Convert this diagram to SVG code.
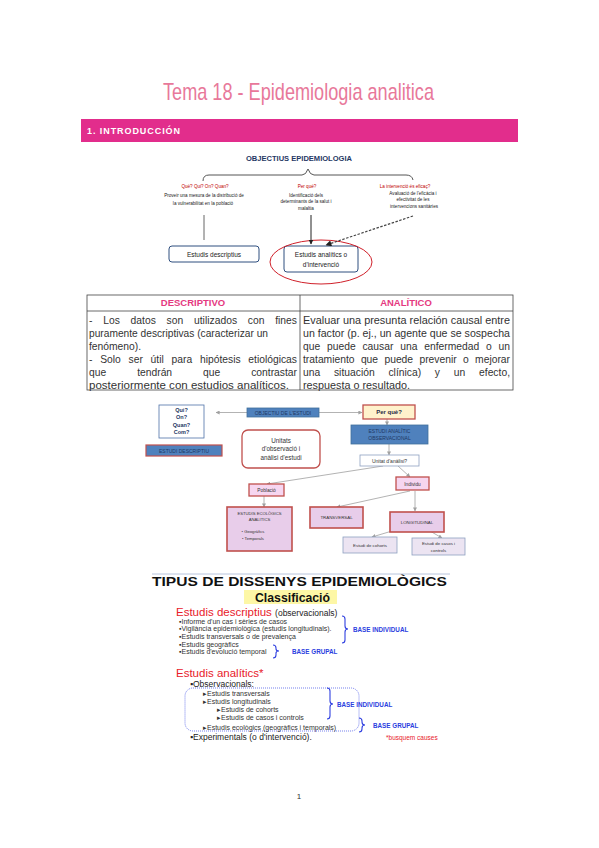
<svg xmlns="http://www.w3.org/2000/svg" width="599" height="848" viewBox="0 0 599 848">
<defs>
<style>
text{font-family:"Liberation Sans",Arial,sans-serif}
.sm{font-size:4.6px;fill:#222}
.red{font-size:4.6px;fill:#c00000}
.tb{font-size:10.3px;fill:#333}
.hd{font-size:9.5px;font-weight:bold;fill:#e5397f}
.bx{font-size:5px;fill:#1f3864}
.blue{fill:#4f81bd;stroke:#41719c;stroke-width:0.8}
.pink{fill:#e8cdea;stroke:#c0504d;stroke-width:1.6}
.lt{fill:#ece4f2;stroke:#8ea0c0;stroke-width:0.8}
.ln{stroke:#a0a0a0;stroke-width:0.8;fill:none}
.bul{font-size:7px;fill:#333}
.br{fill:none;stroke:#3040e0;stroke-width:1.1}
.base{font-size:6.3px;font-weight:bold;fill:#2b3ee0}
</style>
<marker id="ah" viewBox="0 0 10 10" refX="9" refY="5" markerWidth="5" markerHeight="5" orient="auto"><path d="M0,0 L10,5 L0,10 z" fill="#a0a0a0"/></marker>
<marker id="ahk" viewBox="0 0 10 10" refX="9" refY="5" markerWidth="5" markerHeight="5" orient="auto"><path d="M0,0 L10,5 L0,10 z" fill="#222"/></marker>
</defs>
<rect width="599" height="848" fill="#fff"/>

<g id="title">
<text x="163" y="100" font-family="'Lato Light','DejaVu Sans ExtraLight',Lato,'Liberation Sans',sans-serif" font-weight="300" font-size="24" fill="#e8789a" textLength="271" lengthAdjust="spacingAndGlyphs">Tema 18 - Epidemiologia analitica</text>
</g>
<g id="header">
<rect x="81" y="119" width="437" height="23" fill="#e22d8c"/>
<text x="87" y="134" font-size="9" font-weight="bold" fill="#fff" textLength="93" lengthAdjust="spacing">1. INTRODUCCIÓN</text>
</g>

<!-- Objectius epidemiologia -->
<g id="objectius">
<text x="246" y="161" font-size="7.5" font-weight="bold" fill="#1f3864" textLength="106" lengthAdjust="spacingAndGlyphs">OBJECTIUS EPIDEMIOLOGIA</text>
<path d="M203,181 Q203,175 209,175 L302,175 Q306,175 308,169 Q310,175 314,175 L406,175 Q412,175 413,180" fill="none" stroke="#555" stroke-width="1"/>
</g>
<g id="obj-left">
<text class="red" x="205" y="188" text-anchor="middle">Què? Qui? On? Quan?</text>
<text class="sm" x="204" y="197" text-anchor="middle">Proveir una mesura de la distribució de</text>
<text class="sm" x="203" y="205" text-anchor="middle">la vulnerabilitat en la població</text>
</g>
<g id="obj-mid">
<text class="red" x="307" y="188" text-anchor="middle">Per què?</text>
<text class="sm" x="306" y="196.5" text-anchor="middle">Identificació dels</text>
<text class="sm" x="306" y="203" text-anchor="middle">determinants de la salut i</text>
<text class="sm" x="306" y="209.5" text-anchor="middle">malaltia</text>
</g>
<g id="obj-right">
<text class="red" x="405" y="188" text-anchor="middle">La intervenció és eficaç?</text>
<text class="sm" x="413" y="195" text-anchor="middle">Avaluació de l'eficàcia i</text>
<text class="sm" x="413" y="201" text-anchor="middle">efectivitat de les</text>
<text class="sm" x="414" y="207.5" text-anchor="middle">intervencions sanitàries</text>
</g>
<g id="obj-descriptius">
<rect x="169" y="246" width="90" height="16" rx="3" fill="#fff" stroke="#2f4f7f" stroke-width="1"/>
<text x="214" y="256.5" font-size="6.5" fill="#222" text-anchor="middle">Estudis descriptius</text>
</g>
<g id="obj-analitics">
<rect x="284" y="246" width="74" height="26" rx="3" fill="#fff" stroke="#2f4f7f" stroke-width="1"/>
<text x="321" y="257" font-size="6.5" fill="#222" text-anchor="middle">Estudis analítics o</text>
<text x="321" y="267" font-size="6.5" fill="#222" text-anchor="middle">d'intervenció</text>
<ellipse cx="321" cy="262" rx="51" ry="22" fill="none" stroke="#d0202a" stroke-width="1"/>
</g>
<g id="obj-connectors">
<line x1="204" y1="215" x2="204" y2="240" stroke="#666" stroke-width="1"/>
<line x1="311" y1="215" x2="311" y2="244" stroke="#222" stroke-width="1" marker-end="url(#ahk)"/>
<line x1="413" y1="216" x2="326" y2="245" stroke="#444" stroke-width="1.2" stroke-dasharray="2.5,1.5" marker-end="url(#ahk)"/>
</g>

<!-- Table -->
<g id="table">
<rect x="87" y="295" width="426" height="95" fill="none" stroke="#444" stroke-width="0.8"/>
<line x1="87" y1="311" x2="513" y2="311" stroke="#444" stroke-width="0.8"/>
<line x1="300" y1="295" x2="300" y2="390" stroke="#444" stroke-width="0.8"/>
<text class="hd" x="193" y="306" text-anchor="middle">DESCRIPTIVO</text>
<text class="hd" x="406" y="306" text-anchor="middle">ANALÍTICO</text>
<text class="tb" x="89" y="323.5" word-spacing="7.9" textLength="208" lengthAdjust="spacing">- Los datos son utilizados con fines</text>
<text class="tb" x="89" y="336.5" textLength="179" lengthAdjust="spacingAndGlyphs">puramente descriptivas (caracterizar un</text>
<text class="tb" x="89" y="349.5">fenómeno).</text>
<text class="tb" x="89" y="362.5" word-spacing="4.9" textLength="208" lengthAdjust="spacing">- Solo ser útil para hipótesis etiológicas</text>
<text class="tb" x="89" y="375.5" word-spacing="28.1" textLength="208" lengthAdjust="spacing">que tendrán que contrastar</text>
<text class="tb" x="89" y="389" textLength="200" lengthAdjust="spacingAndGlyphs">posteriormente con estudios analíticos.</text>
<text class="tb" x="303" y="323.5" textLength="207" lengthAdjust="spacingAndGlyphs">Evaluar una presunta relación causal entre</text>
<text class="tb" x="303" y="336.5" textLength="207" lengthAdjust="spacingAndGlyphs">un factor (p. ej., un agente que se sospecha</text>
<text class="tb" x="303" y="349.5" word-spacing="4.0" textLength="207" lengthAdjust="spacing">que puede causar una enfermedad o un</text>
<text class="tb" x="303" y="362.5" word-spacing="3.5" textLength="207" lengthAdjust="spacing">tratamiento que puede prevenir o mejorar</text>
<text class="tb" x="303" y="375.5" word-spacing="10.9" textLength="207" lengthAdjust="spacing">una situación clínica) y un efecto,</text>
<text class="tb" x="303" y="389" textLength="107" lengthAdjust="spacingAndGlyphs">respuesta o resultado.</text>
</g>

<!-- Second diagram -->
<g id="connectors">
<line class="ln" x1="247" y1="412.5" x2="216" y2="412.5" marker-end="url(#ah)"/>
<line class="ln" x1="319" y1="412.5" x2="362" y2="412.5" marker-end="url(#ah)"/>
<line class="ln" x1="387" y1="419" x2="387" y2="425" marker-end="url(#ah)"/>
<line class="ln" x1="389" y1="444" x2="389" y2="455" marker-end="url(#ah)"/>
<line class="ln" x1="383" y1="466" x2="267" y2="484" marker-end="url(#ah)"/>
<line class="ln" x1="264" y1="496" x2="264" y2="507" marker-end="url(#ah)"/>
<line class="ln" x1="398" y1="466" x2="410" y2="477" marker-end="url(#ah)"/>
<line class="ln" x1="410" y1="491" x2="337" y2="507" marker-end="url(#ah)"/>
<line class="ln" x1="415" y1="491" x2="415" y2="511" marker-end="url(#ah)"/>
<line class="ln" x1="392" y1="531" x2="372" y2="537" marker-end="url(#ah)"/>
<line class="ln" x1="430" y1="531" x2="442" y2="538" marker-end="url(#ah)"/>
</g>
<g id="n-quiOn">
<rect x="159" y="405" width="45" height="33" fill="#fff" stroke="#4f72a8" stroke-width="0.8"/>
<text x="181.5" y="412" font-size="5.5" font-weight="bold" fill="#1f3864" text-anchor="middle">Qui?</text>
<text x="181.5" y="419" font-size="5.5" font-weight="bold" fill="#1f3864" text-anchor="middle">On?</text>
<text x="181.5" y="427" font-size="5.5" font-weight="bold" fill="#1f3864" text-anchor="middle">Quan?</text>
<text x="181.5" y="434" font-size="5.5" font-weight="bold" fill="#1f3864" text-anchor="middle">Com?</text>
</g>
<g id="n-descriptiu">
<rect x="146" y="445" width="76" height="11" fill="#4f81bd" stroke="#c0504d" stroke-width="1.2"/>
<text class="bx" x="184" y="452.5" text-anchor="middle">ESTUDI DESCRIPTIU</text>
</g>
<g id="n-objectiu">
<rect class="blue" x="247" y="408" width="72" height="9"/>
<text class="bx" x="283" y="414.5" text-anchor="middle">OBJECTIU DE L'ESTUDI</text>
</g>
<g id="n-perque">
<rect x="363" y="405" width="52" height="14" fill="#fff2cc" stroke="#c0504d" stroke-width="1.3"/>
<text x="389" y="414" font-size="6" font-weight="bold" fill="#1f2a44" text-anchor="middle">Per què?</text>
</g>
<g id="n-analitic">
<rect class="blue" x="351" y="425" width="77" height="19"/>
<text class="bx" x="389.5" y="433" text-anchor="middle">ESTUDI ANALÍTIC</text>
<text class="bx" x="389.5" y="440" text-anchor="middle">OBSERVACIONAL</text>
</g>
<g id="n-unitat">
<rect x="360" y="455" width="59" height="11" fill="#fff" stroke="#8ea0c0" stroke-width="0.8"/>
<text x="389.5" y="462.5" font-size="5" fill="#333" text-anchor="middle">Unitat d'anàlisi?</text>
</g>
<g id="n-unitats">
<rect x="242" y="430" width="78" height="38" rx="6" fill="#fff" stroke="#c0504d" stroke-width="1.3"/>
<text x="281" y="443" font-size="6.3" fill="#333" text-anchor="middle">Unitats</text>
<text x="281" y="451" font-size="6.3" fill="#333" text-anchor="middle">d'observació i</text>
<text x="281" y="459.5" font-size="6.3" fill="#333" text-anchor="middle">anàlisi d'estudi</text>
</g>
<g id="n-poblacio">
<rect x="249" y="484" width="35" height="12" fill="#f6d6f0" stroke="#c0504d" stroke-width="1.3"/>
<text x="266.5" y="491.8" font-size="4.8" fill="#333" text-anchor="middle">Població</text>
</g>
<g id="n-ecologics">
<rect class="pink" x="227" y="507" width="65" height="44"/>
<text x="259.5" y="515" font-size="4.2" fill="#333" text-anchor="middle">ESTUDIS ECOLÒGICS</text>
<text x="259.5" y="521" font-size="4.2" fill="#333" text-anchor="middle">ANALÍTICS</text>
<text x="253" y="533" font-size="4.2" fill="#333" text-anchor="middle">•   Geogràfics</text>
<text x="253" y="539.5" font-size="4.2" fill="#333" text-anchor="middle">•   Temporals</text>
</g>
<g id="n-individu">
<rect x="396" y="477" width="33" height="13" fill="#f6d6f0" stroke="#c0504d" stroke-width="1.3"/>
<text x="412.5" y="485.5" font-size="4.8" fill="#333" text-anchor="middle">Individu</text>
</g>
<g id="n-transversal">
<rect class="pink" x="310" y="507" width="53" height="21"/>
<text x="336.5" y="519.3" font-size="4.4" fill="#333" text-anchor="middle">TRANSVERSAL</text>
</g>
<g id="n-longitudinal">
<rect class="pink" x="390" y="512" width="54" height="20"/>
<text x="417" y="524" font-size="4.4" fill="#333" text-anchor="middle">LONGITUDINAL</text>
</g>
<g id="n-cohorts">
<rect class="lt" x="343" y="537" width="54" height="16"/>
<text x="370" y="546.8" font-size="4.4" fill="#333" text-anchor="middle">Estudi de cohorts</text>
</g>
<g id="n-casos">
<rect class="lt" x="412" y="538" width="53" height="17"/>
<text x="438.5" y="545" font-size="4.4" fill="#333" text-anchor="middle">Estudi de casos i</text>
<text x="438.5" y="551.5" font-size="4.4" fill="#333" text-anchor="middle">controls</text>
</g>

<!-- Tipus de dissenys -->
<g id="tipus">
<line x1="152" y1="574" x2="450" y2="574" stroke="#b8c4dc" stroke-width="1"/>
<text x="152" y="586" font-size="13" font-weight="bold" fill="#111" textLength="295" lengthAdjust="spacingAndGlyphs">TIPUS DE DISSENYS EPIDEMIOLÒGICS</text>
<rect x="244" y="590" width="93" height="14" fill="#fdf7a6"/>
<text x="255" y="602" font-size="12" font-weight="bold" fill="#111" textLength="75" lengthAdjust="spacingAndGlyphs">Classificació</text>
<text x="176" y="616" font-size="11.5" fill="#e8202a">Estudis descriptius <tspan font-size="8.5" fill="#222">(observacionals)</tspan></text>
<text class="bul" x="179" y="623.5">▪Informe d'un cas i sèries de casos</text>
<text class="bul" x="179" y="631">▪Vigilància epidemiològica (estudis longitudinals).</text>
<text class="bul" x="179" y="638.5">▪Estudis transversals o de prevalença</text>
<text class="bul" x="179" y="646.5">▪Estudis geogràfics</text>
<text class="bul" x="179" y="654">▪Estudis d'evolució temporal</text>
<path class="br" d="M342,616 Q345,616 345,619 L345,626 Q345,629 348,629 Q345,629 345,632 L345,640 Q345,643 342,643"/>
<text class="base" x="353" y="632">BASE INDIVIDUAL</text>
<path class="br" d="M273,645 Q276,645 276,648 L276,649 Q276,651 279,651 Q276,651 276,653 L276,655 Q276,658 273,658"/>
<text class="base" x="292" y="653.5">BASE GRUPAL</text>

<text x="176" y="677" font-size="11.5" fill="#e8202a">Estudis analítics*</text>
<text x="190" y="687" font-size="8.5" fill="#222">▪Observacionals:</text>
<rect x="185" y="688" width="174" height="43" rx="8" fill="none" stroke="#5060e8" stroke-width="0.8" stroke-dasharray="1,1"/>
<text class="bul" x="203" y="695.5">▸Estudis transversals</text>
<text class="bul" x="203" y="703.5">▸Estudis longitudinals</text>
<text class="bul" x="217" y="711.5">▸Estudis de cohorts</text>
<text class="bul" x="217" y="719.5">▸Estudis de casos i controls</text>
<text class="bul" x="203" y="729.5">▸Estudis ecològics (geogràfics i temporals)</text>
<text x="190" y="739.5" font-size="8.5" fill="#222">▪Experimentals (o d'intervenció).</text>
<path class="br" d="M327,688 Q330,688 330,691 L330,701 Q330,704 333,704 Q330,704 330,707 L330,716 Q330,719 327,719"/>
<text class="base" x="337" y="706.5">BASE INDIVIDUAL</text>
<path class="br" d="M359,718 Q362,718 362,721 L362,722 Q362,725 365,725 Q362,725 362,728 L362,729 Q362,732 359,732"/>
<text class="base" x="373" y="727.5">BASE GRUPAL</text>
<text x="386" y="740" font-size="6.5" fill="#e8202a">*busquem causes</text>
</g>

<g id="page">
<text x="299" y="799" font-size="8" fill="#333" text-anchor="middle">1</text>
</g>
</svg>
